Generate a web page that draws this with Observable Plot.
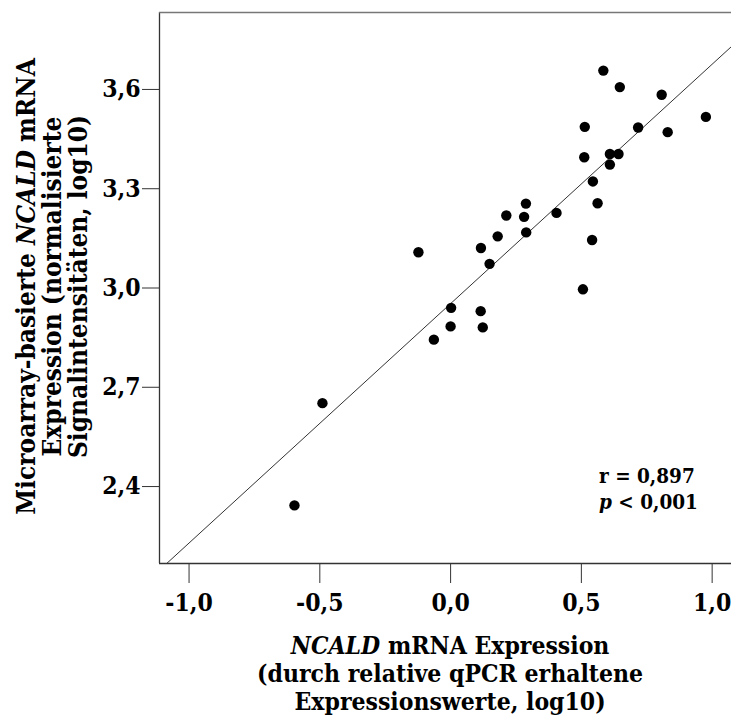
<!DOCTYPE html>
<html>
<head>
<meta charset="utf-8">
<script src="https://cdn.jsdelivr.net/npm/d3@7"></script>
<script src="https://cdn.jsdelivr.net/npm/@observablehq/plot@0.6"></script>
<style>
  html, body { margin: 0; padding: 0; background: #fff; overflow: hidden; }
  #chart { width: 731px; height: 719px; }
</style>
</head>
<body>
<div id="chart"></div>
<script>
// qPCR expression (log10) per sample
const qpcrValues = [0.584, 0.647, 0.807, 0.976, 0.513, 0.717, 0.830, 0.511, 0.609, 0.642,
  0.609, 0.544, 0.562, 0.288, 0.405, 0.213, 0.281, 0.180, 0.289, 0.116,
  -0.123, 0.149, 0.541, 0.506, 0.002, 0.115, 0.000, 0.123, -0.064, -0.490, -0.597];
// microarray normalized signal intensity (log10) per sample
const arrayValues = [3.657, 3.607, 3.584, 3.517, 3.487, 3.485, 3.471, 3.395, 3.405, 3.405,
  3.373, 3.322, 3.256, 3.255, 3.227, 3.219, 3.215, 3.156, 3.168, 3.121,
  3.108, 3.073, 3.145, 2.996, 2.940, 2.930, 2.884, 2.881, 2.844, 2.652, 2.343];

const xTicks = [-1.0, -0.5, 0.0, 0.5, 1.0];
const yTicks = [2.4, 2.7, 3.0, 3.3, 3.6];
const xDomain = [-1.113, 1.074];
const yDomain = [2.1675, 3.8325];
const statLines = ["r = 0,897", "< 0,001"];

const points = qpcrValues.map((x, i) => ({x, y: arrayValues[i]}));
// ordinary least squares fit
const mx = d3.mean(qpcrValues), my = d3.mean(arrayValues);
const slope = d3.sum(points, d => (d.x - mx) * (d.y - my)) / d3.sum(points, d => (d.x - mx) ** 2);
const intercept = my - slope * mx;
const fitLine = xDomain.map(x => ({x, y: intercept + slope * x}));

const fmt = d => d.toFixed(1).replace(".", ",");
const FONT = '"DejaVu Serif Condensed", "DejaVu Serif", serif';

const plot = Plot.plot({
  width: 731,
  height: 719,
  marginLeft: 159,
  marginRight: 0,
  marginTop: 12,
  marginBottom: 156,
  style: {fontFamily: FONT, fontSize: "24.5px", fontWeight: "bold", color: "#000", background: "#fff", fontStretch: "condensed"},
  x: {domain: xDomain},
  y: {domain: yDomain},
  marks: [
    Plot.axisX({ticks: xTicks, tickFormat: fmt, tickSize: 20, tickPadding: 10, label: null, stroke: "#333"}),
    Plot.axisY({ticks: yTicks, tickFormat: fmt, tickSize: 17, tickPadding: 2, label: null, stroke: "#333"}),
    Plot.ruleX([xDomain[0]], {stroke: "#333", strokeWidth: 1.3}),
    Plot.ruleY([yDomain[0]], {stroke: "#333", strokeWidth: 1.3}),
    Plot.ruleY([yDomain[1]], {stroke: "#777", strokeWidth: 1.6}),
    Plot.line(fitLine, {x: "x", y: "y", stroke: "#333", strokeWidth: 1, clip: true}),
    Plot.dot(points, {x: "x", y: "y", r: 5.2, fill: "#000", stroke: "none"})
  ]
});

document.getElementById("chart").appendChild(plot);

const sx = plot.scale("x"), sy = plot.scale("y");
const svg = d3.select(plot);

// x axis title
const cx = sx.apply(0);
const xt = svg.append("text")
  .attr("text-anchor", "middle")
  .attr("font-family", FONT).attr("font-size", 24.5).attr("font-weight", "bold")
  .attr("fill", "#000");
const xl1 = xt.append("tspan").attr("x", cx).attr("y", 654);
xl1.append("tspan").attr("font-style", "italic").text("NCALD");
xl1.append("tspan").text(" mRNA Expression");
xt.append("tspan").attr("x", cx).attr("y", 682).text("(durch relative qPCR erhaltene");
xt.append("tspan").attr("x", cx).attr("y", 710).text("Expressionswerte, log10)");

// y axis title
const cy = (sy.apply(yDomain[0]) + sy.apply(yDomain[1])) / 2 - 1;
const yBase = [35, 61, 87];
const yt = svg.append("g")
  .attr("font-family", FONT).attr("font-size", 26).attr("font-weight", "bold")
  .attr("fill", "#000").attr("text-anchor", "middle");
const yl1 = yt.append("text").attr("transform", `translate(${yBase[0]},${cy}) rotate(-90)`);
yl1.append("tspan").text("Microarray-basierte ");
yl1.append("tspan").attr("font-style", "italic").text("NCALD");
yl1.append("tspan").text(" mRNA");
yt.append("text").attr("transform", `translate(${yBase[1]},${cy}) rotate(-90)`).text("Expression (normalisierte");
yt.append("text").attr("transform", `translate(${yBase[2]},${cy}) rotate(-90)`).text("Signalintensitäten, log10)");

// correlation annotation
const st = svg.append("text")
  .attr("font-family", FONT).attr("font-size", 20.5).attr("font-weight", "bold")
  .attr("fill", "#000").attr("text-anchor", "start");
st.append("tspan").attr("x", 599).attr("y", 483).text(statLines[0]);
const p2 = st.append("tspan").attr("x", 599).attr("y", 509);
p2.append("tspan").attr("font-style", "italic").text("p");
p2.append("tspan").text(" " + statLines[1]);
</script>
</body>
</html>
